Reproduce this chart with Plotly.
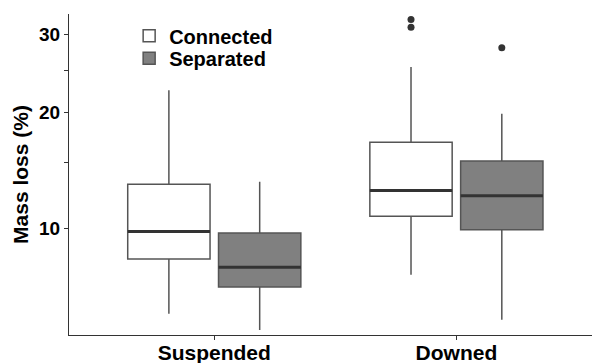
import plotly.graph_objects as go

categories = ["Suspended", "Downed"]
groups = ["Connected", "Separated"]

# Box statistics (Mass loss, %) per group, in category order
connected_lower = [5.5, 7.3]
connected_q1 = [8.15, 10.8]
connected_median = [9.8, 12.7]
connected_q3 = [13.2, 16.9]
connected_upper = [22.5, 25.4]
connected_outliers = [[], [31.0, 32.2]]

separated_lower = [4.85, 5.25]
separated_q1 = [6.7, 9.9]
separated_median = [7.7, 12.3]
separated_q3 = [9.7, 15.15]
separated_upper = [13.4, 19.8]
separated_outliers = [[], [28.0]]

tick_values = [10, 15, 20, 25, 30]
tick_labels = ["10", "", "20", "", "30"]

POW = 0.25  # fourth-root axis transform


def tr(v):
    return [x ** POW for x in v]


base = [1, 2]
offset = 0.1875
bw = 0.34
line_col = "#555555"
font_fam = "Liberation Sans, Arial, sans-serif"

fig = go.Figure()

series = [
    ("Connected", -offset, "#ffffff", connected_lower, connected_q1, connected_median,
     connected_q3, connected_upper, connected_outliers, "legend"),
    ("Separated", offset, "#808080", separated_lower, separated_q1, separated_median,
     separated_q3, separated_upper, separated_outliers, "legend2"),
]

for name, off, fill, lo, q1, med, q3, up, outs, leg in series:
    xs = [b + off for b in base]
    fig.add_trace(go.Box(
        name=name, x=xs, q1=tr(q1), median=tr(med), q3=tr(q3),
        lowerfence=tr(lo), upperfence=tr(up), width=bw,
        fillcolor=fill, line=dict(color=line_col, width=1.5),
        whiskerwidth=0, boxpoints=False, legend=leg, hoverinfo="skip",
    ))
    # thicker median line
    mx, my = [], []
    for x, m in zip(xs, tr(med)):
        mx += [x - bw / 2, x + bw / 2, None]
        my += [m, m, None]
    fig.add_trace(go.Scatter(x=mx, y=my, mode="lines",
                             line=dict(color="#333333", width=3),
                             showlegend=False, hoverinfo="skip"))
    ox, oy = [], []
    for x, o in zip(xs, outs):
        ox += [x] * len(o)
        oy += tr(o)
    if ox:
        fig.add_trace(go.Scatter(x=ox, y=oy, mode="markers",
                                 marker=dict(color="#333333", size=7),
                                 showlegend=False, hoverinfo="skip",
                                 cliponaxis=False))

fig.update_layout(
    width=592, height=363,
    margin=dict(l=69, r=0, t=14, b=28, autoexpand=False),
    paper_bgcolor="white", plot_bgcolor="white",
    font=dict(family=font_fam, color="black"),
    legend=dict(x=0.115, y=0.932, xanchor="left", yanchor="middle",
                font=dict(size=20, family=font_fam, weight="bold"),
                bgcolor="rgba(0,0,0,0)"),
    legend2=dict(x=0.115, y=0.862, xanchor="left", yanchor="middle",
                 font=dict(size=20, family=font_fam, weight="bold"),
                 bgcolor="rgba(0,0,0,0)"),
)

fig.update_xaxes(
    range=[0.4, 2.56], tickvals=base, ticktext=categories,
    showline=True, linecolor="#333333", linewidth=1.2,
    ticks="outside", ticklen=4, tickcolor="#333333", tickwidth=1.2,
    tickfont=dict(size=21, family=font_fam, weight="bold", color="black"),
    ticklabelstandoff=-5,
    showgrid=False, zeroline=False, automargin=False,
)
fig.update_yaxes(
    range=[4.665 ** POW, 33.08 ** POW], tickvals=tr(tick_values), ticktext=tick_labels,
    showline=True, linecolor="#333333", linewidth=1.2,
    ticks="outside", ticklen=4, tickcolor="#333333", tickwidth=1.2,
    tickfont=dict(size=19, family=font_fam, weight="bold", color="black"),
    title=dict(text="Mass loss (%)", standoff=4,
               font=dict(size=21, family=font_fam, weight="bold", color="black")),
    showgrid=False, zeroline=False, automargin=False,
)

fig.write_html("out.html", post_script="document.body.style.margin='0';",
               config={"displayModeBar": False})
